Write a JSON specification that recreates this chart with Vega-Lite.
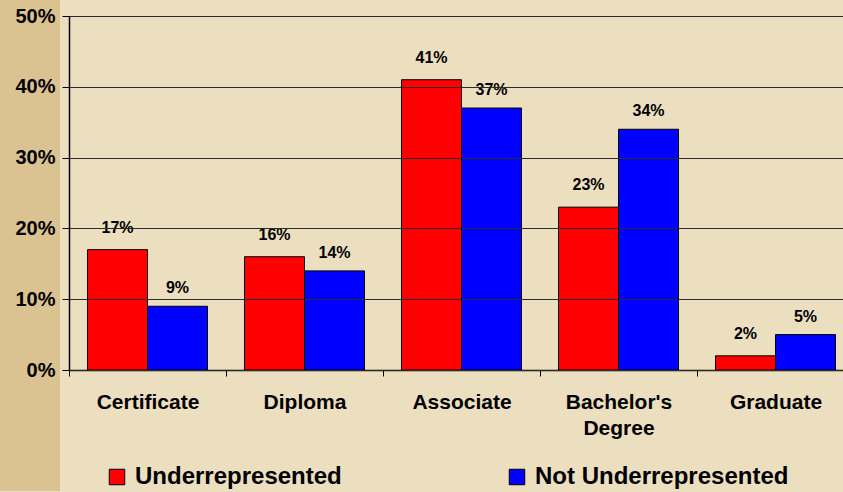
{
  "$schema": "https://vega.github.io/schema/vega-lite/v6.json",
  "width": 774,
  "height": 354,
  "autosize": {"type": "none"},
  "padding": {"left": 69, "top": 16, "right": 0, "bottom": 122},
  "background": "#ecdfc0",
  "config": {
    "view": {"stroke": null},
    "font": "Liberation Sans",
    "axis": {"labelFont": "Liberation Sans", "labelFontWeight": "bold", "labelColor": "#000000"},
    "legend": {"labelFont": "Liberation Sans", "labelFontWeight": "bold"}
  },
  "data": {
    "values": [
      {"degree": "Certificate", "group": "Underrepresented", "share": 0.17},
      {"degree": "Certificate", "group": "Not Underrepresented", "share": 0.09},
      {"degree": "Diploma", "group": "Underrepresented", "share": 0.16},
      {"degree": "Diploma", "group": "Not Underrepresented", "share": 0.14},
      {"degree": "Associate", "group": "Underrepresented", "share": 0.41},
      {"degree": "Associate", "group": "Not Underrepresented", "share": 0.37},
      {"degree": "Bachelor's Degree", "group": "Underrepresented", "share": 0.23},
      {"degree": "Bachelor's Degree", "group": "Not Underrepresented", "share": 0.34},
      {"degree": "Graduate", "group": "Underrepresented", "share": 0.02},
      {"degree": "Graduate", "group": "Not Underrepresented", "share": 0.05}
    ]
  },
  "encoding": {
    "x": {
      "field": "degree",
      "type": "nominal",
      "sort": ["Certificate", "Diploma", "Associate", "Bachelor's Degree", "Graduate"],
      "scale": {"paddingInner": 0, "paddingOuter": 0, "range": [0, 785]},
      "axis": {
        "title": null,
        "labelAngle": 0,
        "labelFontSize": 21,
        "labelPadding": 15,
        "labelLineHeight": 26,
        "labelExpr": "datum.label == \"Bachelor's Degree\" ? [\"Bachelor's\", 'Degree'] : datum.label",
        "tickBand": "extent",
        "tickSize": 6,
        "tickColor": "#000000",
        "domainColor": "#000000",
        "domainWidth": 1.5,
        "grid": false
      }
    },
    "xOffset": {
      "field": "group",
      "type": "nominal",
      "sort": ["Underrepresented", "Not Underrepresented"],
      "scale": {"paddingInner": 0, "paddingOuter": 0.308}
    },
    "y": {
      "field": "share",
      "type": "quantitative",
      "scale": {"domain": [0, 0.5], "nice": false},
      "axis": {
        "title": null,
        "values": [0, 0.1, 0.2, 0.3, 0.4, 0.5],
        "format": ".0%",
        "labelFontSize": 20,
        "labelPadding": 7,
        "tickSize": 7,
        "tickColor": "#000000",
        "domainColor": "#000000",
        "domainWidth": 1.5,
        "gridColor": "#2a2a2a",
        "gridOpacity": 1,
        "gridWidth": 1,
        "zindex": 1
      }
    }
  },
  "layer": [
    {
      "mark": {"type": "bar", "strokeWidth": 1},
      "encoding": {
        "fill": {
          "field": "group",
          "type": "nominal",
          "scale": {"domain": ["Underrepresented", "Not Underrepresented"], "range": ["#ff0000", "#0000ff"]},
          "legend": {
            "title": null,
            "orient": "none",
            "legendX": 36,
            "legendY": 449,
            "direction": "horizontal",
            "columns": 2,
            "columnPadding": 163,
            "padding": 0,
            "symbolType": "square",
            "symbolSize": 240,
            "symbolStrokeColor": "#000000",
            "symbolStrokeWidth": 1,
            "symbolOpacity": 1,
            "labelFontSize": 24,
            "labelColor": "#000000",
            "labelOffset": 6,
            "labelLimit": 400,
            "zindex": 1
          }
        },
        "stroke": {
          "field": "share",
          "type": "quantitative",
          "scale": {"range": ["#000000", "#000000"]},
          "legend": {
            "title": null,
            "orient": "none",
            "legendX": -69,
            "legendY": -16,
            "direction": "vertical",
            "gradientLength": 432,
            "gradientThickness": 1,
            "gradientOpacity": 0,
            "gradientStrokeWidth": 0,
            "labelExpr": "''",
            "labelFontSize": 0,
            "labelOpacity": 0,
            "labelOffset": 0,
            "padding": 29.5,
            "fillColor": "#dbc291",
            "strokeColor": null,
            "zindex": 0
          }
        }
      }
    },
    {
      "transform": [{"filter": "datum.group == 'Underrepresented'"}],
      "mark": {"type": "text", "baseline": "bottom", "dy": -14, "fontSize": 16, "fontWeight": "bold", "font": "Liberation Sans", "color": "#000000"},
      "encoding": {"text": {"field": "share", "type": "quantitative", "format": ".0%"}}
    },
    {
      "transform": [{"filter": "datum.group == 'Not Underrepresented'"}],
      "mark": {"type": "text", "baseline": "bottom", "dy": -10, "fontSize": 16, "fontWeight": "bold", "font": "Liberation Sans", "color": "#000000"},
      "encoding": {"text": {"field": "share", "type": "quantitative", "format": ".0%"}}
    }
  ]
}
